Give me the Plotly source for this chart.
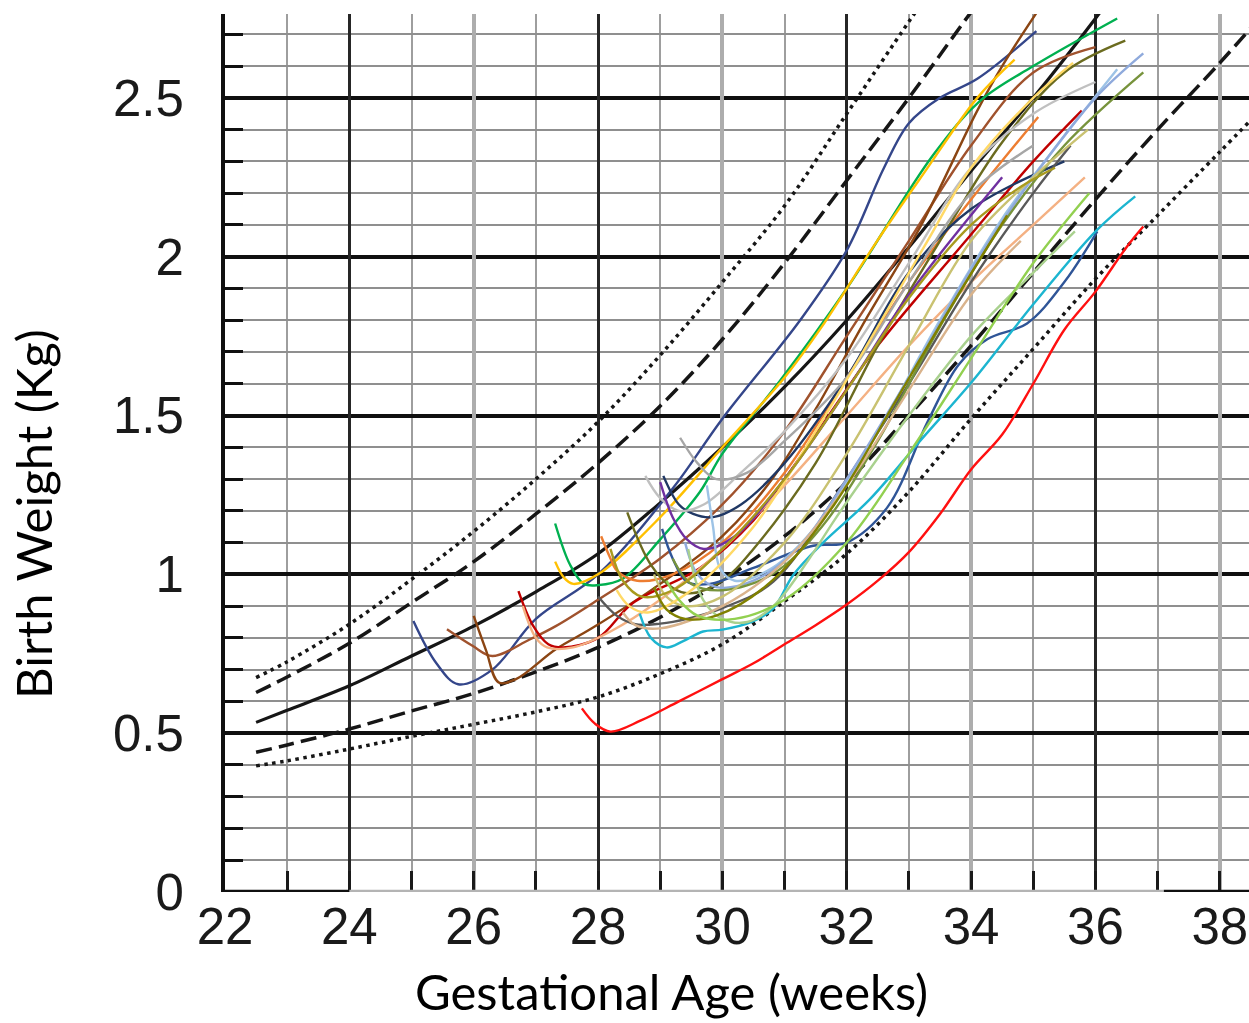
import plotly.graph_objects as go

# ---------------- reference percentile curves (kg vs weeks) ----------------
p97_ga = [22.5, 23, 24, 25, 26, 27, 28, 29, 30, 31, 32, 33, 33.5]
p97_bw = [0.675, 0.725, 0.843, 0.984, 1.135, 1.30, 1.48, 1.69, 1.92, 2.16, 2.45, 2.74, 2.88]

p90_ga = [22.5, 23, 24, 25, 26, 27, 28, 29, 30, 31, 32, 33, 34, 34.5]
p90_bw = [0.628, 0.677, 0.783, 0.911, 1.04, 1.19, 1.35, 1.53, 1.74, 1.98, 2.24, 2.50, 2.77, 2.90]

p50_ga = [22.5, 23, 24, 25, 26, 27, 28, 29, 30, 31, 32, 33, 34, 35, 36, 36.3]
p50_bw = [0.534, 0.572, 0.649, 0.743, 0.837, 0.945, 1.065, 1.225, 1.40, 1.59, 1.80, 2.03, 2.27, 2.50, 2.75, 2.83]

p10_ga = [22.5, 23, 24, 25, 26, 27, 28, 29, 30, 31, 32, 33, 34, 35, 36, 37, 38, 38.5]
p10_bw = [0.44, 0.463, 0.513, 0.57, 0.625, 0.693, 0.77, 0.865, 0.98, 1.12, 1.29, 1.50, 1.72, 1.95, 2.18, 2.40, 2.61, 2.72]

p3_ga = [22.5, 23, 24, 25, 26, 27, 28, 29, 30, 31, 32, 33, 34, 35, 36, 37, 38, 38.5]
p3_bw = [0.397, 0.413, 0.45, 0.49, 0.528, 0.567, 0.614, 0.687, 0.78, 0.915, 1.065, 1.26, 1.49, 1.71, 1.93, 2.13, 2.33, 2.43]

# ---------------- individual infant growth curves ----------------
ga_01 = [25.03, 25.4, 25.75, 26.3, 27.0, 28.0, 29.2, 30.0, 31.25, 32.0, 32.6, 33.0, 33.5, 34.1, 35.05]
bw_01 = [0.853, 0.72, 0.654, 0.70, 0.86, 1.00, 1.27, 1.49, 1.80, 2.02, 2.28, 2.42, 2.50, 2.56, 2.71]

ga_02 = [25.57, 25.98, 26.3, 26.9, 27.32, 28.0, 29.0, 30.0, 31.0, 32.0, 33.0, 34.0, 35.0, 36.0]
bw_02 = [0.827, 0.775, 0.743, 0.795, 0.837, 0.92, 1.05, 1.22, 1.45, 1.75, 2.05, 2.35, 2.58, 2.66]

ga_03 = [26.0, 26.2, 26.4, 26.68, 27.32, 27.9, 29.0, 30.0, 30.8, 31.5, 32.3, 33.2, 34.1, 34.5, 35.06]
bw_03 = [0.869, 0.76, 0.66, 0.67, 0.764, 0.83, 0.97, 1.12, 1.30, 1.52, 1.80, 2.10, 2.46, 2.60, 2.77]

ga_04 = [26.72, 26.95, 27.2, 27.44, 28.0, 28.56, 29.64, 30.5, 31.0, 31.57, 32.5, 33.87, 35.0, 35.78]
bw_04 = [0.947, 0.84, 0.78, 0.77, 0.80, 0.91, 1.02, 1.17, 1.30, 1.46, 1.72, 2.04, 2.30, 2.46]

ga_05 = [26.79, 27.0, 27.18, 27.6, 28.2, 29.0, 30.0, 31.0, 32.0, 33.0, 34.0, 35.0, 35.83]
bw_05 = [0.90, 0.80, 0.77, 0.77, 0.82, 0.92, 1.08, 1.28, 1.50, 1.72, 1.92, 2.10, 2.25]

ga_06 = [27.31, 27.55, 27.77, 28.0, 28.41, 29.0, 29.64, 30.0, 30.93, 32.0, 33.39, 34.14, 35.0, 36.35]
bw_06 = [1.16, 1.03, 0.97, 0.966, 0.988, 1.11, 1.26, 1.38, 1.61, 1.90, 2.32, 2.49, 2.60, 2.75]

ga_07 = [27.31, 27.45, 27.6, 28.0, 29.0, 30.0, 31.0, 31.6, 32.49, 33.23, 34.1, 34.7]
bw_07 = [1.04, 0.99, 0.97, 1.00, 1.18, 1.40, 1.62, 1.78, 2.05, 2.26, 2.50, 2.62]

ga_08 = [28.05, 28.2, 28.31, 28.63, 29.2, 30.0, 31.0, 32.0, 33.0, 34.0, 35.08]
bw_08 = [1.12, 1.05, 1.01, 0.98, 1.00, 1.10, 1.32, 1.62, 1.92, 2.18, 2.44]

ga_09 = [28.47, 28.85, 29.21, 29.48, 30.0, 30.5, 31.5, 32.5, 33.5, 34.5, 35.5, 36.48]
bw_09 = [1.195, 1.03, 0.956, 0.94, 0.98, 1.08, 1.35, 1.72, 2.05, 2.36, 2.58, 2.68]

ga_10 = [29.05, 29.3, 29.53, 29.85, 30.3, 31.0, 32.0, 33.0, 34.0, 35.5]
bw_10 = [1.31, 1.22, 1.19, 1.18, 1.22, 1.35, 1.62, 1.95, 2.15, 2.30]

ga_11 = [28.0, 28.3, 28.6, 29.0, 29.43, 30.0, 30.82, 32.0, 33.0, 34.0, 35.0, 35.6]
bw_11 = [0.93, 0.87, 0.843, 0.845, 0.86, 0.894, 0.977, 1.30, 1.60, 1.92, 2.20, 2.35]

ga_12 = [29.03, 29.2, 29.43, 29.8, 30.5, 31.46, 32.0, 32.65, 33.3, 33.8, 34.26, 34.9, 35.5, 36.03]
bw_12 = [1.143, 1.05, 0.977, 0.97, 1.02, 1.09, 1.10, 1.21, 1.48, 1.66, 1.74, 1.79, 1.92, 2.08]

ga_13 = [28.67, 28.85, 29.1, 29.37, 29.69, 30.0, 30.49, 30.82, 31.14, 31.62, 32.37, 33.18, 34.03, 35.0, 36.03, 36.64]
bw_13 = [0.876, 0.80, 0.77, 0.79, 0.82, 0.826, 0.852, 0.893, 0.998, 1.10, 1.236, 1.42, 1.61, 1.85, 2.085, 2.19]

ga_14 = [28.76, 29.0, 29.3, 29.7, 30.3, 31.0, 32.0, 33.0, 34.0, 35.0, 36.0]
bw_14 = [1.31, 1.24, 1.20, 1.22, 1.32, 1.45, 1.68, 1.98, 2.28, 2.45, 2.55]

ga_15 = [29.32, 29.6, 29.9, 30.4, 31.0, 32.0, 33.0, 34.0, 35.0]
bw_15 = [1.43, 1.35, 1.30, 1.32, 1.42, 1.62, 1.92, 2.20, 2.35]

ga_16 = [29.0, 29.2, 29.43, 29.7, 30.2, 31.0, 32.0, 33.0, 34.5]
bw_16 = [1.29, 1.18, 1.11, 1.08, 1.12, 1.30, 1.58, 1.88, 2.25]

ga_17 = [29.75, 29.85, 29.96, 30.2, 30.8, 31.5, 32.5, 33.5, 34.5, 35.5, 36.35]
bw_17 = [1.28, 1.15, 1.02, 0.98, 1.02, 1.15, 1.45, 1.80, 2.12, 2.38, 2.59]

ga_18 = [29.4, 29.6, 29.9, 30.5, 31.2, 32.0, 33.0, 34.0, 35.0, 36.0, 36.77]
bw_18 = [1.10, 1.00, 0.96, 0.98, 1.08, 1.30, 1.62, 1.96, 2.25, 2.50, 2.64]

ga_19 = [29.2, 29.5, 30.0, 30.8, 31.6, 32.5, 33.5, 34.5, 35.5, 36.77]
bw_19 = [1.05, 0.97, 0.95, 1.00, 1.15, 1.42, 1.78, 2.10, 2.35, 2.58]

ga_20 = [29.45, 29.69, 30.0, 30.4, 30.82, 31.4, 31.8, 32.26, 33.0, 34.0, 35.0, 35.67]
bw_20 = [1.08, 0.92, 0.86, 0.85, 0.90, 1.05, 1.17, 1.30, 1.50, 1.75, 1.95, 2.08]

ga_21 = [28.9, 29.1, 29.4, 30.0, 31.0, 32.0, 33.0, 34.0, 35.0, 35.88]
bw_21 = [1.00, 0.93, 0.90, 0.93, 1.10, 1.38, 1.72, 2.05, 2.25, 2.40]

ga_22 = [28.4, 28.6, 29.0, 30.0, 31.0, 32.0, 33.0, 34.0, 34.8]
bw_22 = [0.88, 0.84, 0.83, 0.90, 1.04, 1.28, 1.58, 1.88, 2.05]

ga_23 = [28.3, 28.5, 28.8, 29.5, 30.5, 31.5, 32.5, 33.3, 34.0, 35.0, 35.64]
bw_23 = [0.95, 0.90, 0.88, 0.95, 1.15, 1.45, 1.78, 2.05, 2.28, 2.50, 2.61]

ga_24 = [28.2, 28.4, 28.7, 29.2, 30.0, 31.0, 32.0, 33.0, 34.0, 34.8, 35.35]
bw_24 = [1.08, 0.98, 0.93, 0.95, 1.08, 1.30, 1.58, 1.87, 2.10, 2.22, 2.28]

ga_25 = [28.9, 29.1, 29.4, 29.9, 30.8, 31.8, 32.8, 33.7, 34.58]
bw_25 = [0.96, 0.89, 0.86, 0.87, 0.98, 1.22, 1.55, 1.85, 2.13]

ga_26 = [29.1, 29.3, 29.6, 30.2, 31.0, 32.0, 33.0, 34.0, 35.0, 35.9]
bw_26 = [0.98, 0.92, 0.87, 0.86, 0.92, 1.10, 1.38, 1.68, 1.98, 2.20]

ga_27 = [27.74, 27.95, 28.2, 28.69, 29.3, 30.0, 30.5, 31.0, 31.5, 32.0, 32.5, 33.0, 33.5, 34.0, 34.5, 35.0, 35.5, 36.0, 36.5, 36.77]
bw_27 = [0.578, 0.53, 0.505, 0.54, 0.60, 0.67, 0.72, 0.78, 0.84, 0.905, 0.98, 1.07, 1.19, 1.33, 1.44, 1.60, 1.77, 1.89, 2.03, 2.095]

infant_colors = ["#34468A", "#A0522D", "#8B4513", "#C00000", "#F4B183", "#00B050",
                 "#FFC000", "#ED7D31", "#6B6B1F", "#203864", "#595959", "#2F5597",
                 "#1CB5D0", "#C0C0C0", "#A6A6A6", "#7030A0", "#9DC3E6", "#8FAADC",
                 "#77933C", "#A9D18E", "#C9C271", "#D9B38C", "#FFD966", "#A89A1E",
                 "#808000", "#92D050", "#FF1010"]

x_ticks = [22, 24, 26, 28, 30, 32, 34, 36, 38]
x_dark_grid = [24, 28, 32, 36]
x_light_grid = [26, 30, 34, 38]
y_ticks = [0, 0.5, 1, 1.5, 2, 2.5]
y_ticktext = ["0", "0.5", "1", "1.5", "2", "2.5"]

infant_ga = [ga_01, ga_02, ga_03, ga_04, ga_05, ga_06, ga_07, ga_08, ga_09, ga_10,
             ga_11, ga_12, ga_13, ga_14, ga_15, ga_16, ga_17, ga_18, ga_19, ga_20,
             ga_21, ga_22, ga_23, ga_24, ga_25, ga_26, ga_27]
infant_bw = [bw_01, bw_02, bw_03, bw_04, bw_05, bw_06, bw_07, bw_08, bw_09, bw_10,
             bw_11, bw_12, bw_13, bw_14, bw_15, bw_16, bw_17, bw_18, bw_19, bw_20,
             bw_21, bw_22, bw_23, bw_24, bw_25, bw_26, bw_27]

fig = go.Figure()

ref_curves = [
    (p97_ga, p97_bw, "3.5px,4.5px", 3.5),
    (p90_ga, p90_bw, "16px,7px", 3.5),
    (p50_ga, p50_bw, "solid", 3.2),
    (p10_ga, p10_bw, "16px,7px", 3.5),
    (p3_ga, p3_bw, "3.5px,4.5px", 3.5),
]
for ga, bw, dash, w in ref_curves:
    fig.add_trace(go.Scatter(x=ga, y=bw, mode="lines",
                             line=dict(color="#161616", width=w, dash=dash, shape="spline", smoothing=1.0),
                             hoverinfo="skip", showlegend=False))

for ga, bw, col in zip(infant_ga, infant_bw, infant_colors):
    fig.add_trace(go.Scatter(x=ga, y=bw, mode="lines",
                             line=dict(color=col, width=2.4, shape="spline", smoothing=1.0),
                             hoverinfo="skip", showlegend=False))

# empty traces so the overlay grid axes get a subplot
fig.add_trace(go.Scatter(x=[], y=[], xaxis="x2", yaxis="y", hoverinfo="skip", showlegend=False))
fig.add_trace(go.Scatter(x=[], y=[], xaxis="x3", yaxis="y", hoverinfo="skip", showlegend=False))

tick_font = dict(family="Liberation Sans, Arial, sans-serif", size=51, color="#1a1a1a")
x_range = [22, 38.47]

fig.update_layout(
    xaxis=dict(range=x_range, tickmode="array", tickvals=x_ticks,
               ticktext=[str(v) for v in x_ticks],
               showgrid=False,
               ticks="inside", ticklen=21, tickwidth=2.5, tickcolor="#1a1a1a",
               showline=False, zeroline=False, tickfont=tick_font,
               ticklabelstandoff=0, ticklabeloverflow="allow",
               minor=dict(dtick=1, tick0=22, showgrid=True, gridcolor="#9e9e9e", gridwidth=2,
                          ticks="inside", ticklen=21, tickwidth=2.5, tickcolor="#1a1a1a"),
               automargin=False, fixedrange=True),
    xaxis2=dict(range=x_range, overlaying="x", anchor="y", side="bottom",
                tickmode="array", tickvals=x_dark_grid, showticklabels=False, ticks="",
                showgrid=True, gridcolor="#262626", gridwidth=2.6,
                showline=False, zeroline=False, automargin=False, fixedrange=True),
    xaxis3=dict(range=x_range, overlaying="x", anchor="y", side="bottom",
                tickmode="array", tickvals=x_light_grid, showticklabels=False, ticks="",
                showgrid=True, gridcolor="#adadad", gridwidth=3.5,
                showline=False, zeroline=False, automargin=False, fixedrange=True),
    yaxis=dict(range=[0, 2.764], tickmode="array", tickvals=y_ticks, ticktext=y_ticktext,
               showgrid=True, gridcolor="#101010", gridwidth=4,
               ticks="inside", ticklen=18, tickwidth=3, tickcolor="#101010",
               showline=True, linecolor="#101010", linewidth=4, mirror=False,
               zeroline=False, tickfont=tick_font, ticklabelstandoff=27,
               ticklabeloverflow="allow",
               minor=dict(dtick=0.1, tick0=0, showgrid=True, gridcolor="#8f8f8f", gridwidth=2,
                          ticks="inside", ticklen=18, tickwidth=3, tickcolor="#101010"),
               automargin=False, fixedrange=True),
)

# bottom axis line (black at both ends, pale in the middle as in the scanned chart)
fig.add_shape(type="line", xref="x", yref="y", x0=22, x1=24, y0=0, y1=0,
              line=dict(color="#101010", width=4.5), layer="above")
fig.add_shape(type="line", xref="x", yref="y", x0=24, x1=37.1, y0=0, y1=0,
              line=dict(color="#b4b4b4", width=4.5), layer="above")
fig.add_shape(type="line", xref="x", yref="y", x0=37.1, x1=38.47, y0=0, y1=0,
              line=dict(color="#101010", width=4.5), layer="above")

title_font = dict(family="Lato, Carlito, Open Sans, sans-serif", size=49, color="#000000")
fig.add_annotation(text="Gestational Age (weeks)", xref="paper", yref="paper",
                   x=(671 - 225) / 1024, y=-(1022 - 892) / 878, xanchor="center", yanchor="bottom",
                   showarrow=False, font=title_font)
fig.add_annotation(text="Birth Weight (Kg)", xref="paper", yref="paper",
                   x=(33 - 225) / 1024, y=(892 - 514) / 878, xanchor="center", yanchor="middle",
                   textangle=-90, showarrow=False, font=title_font)

fig.update_layout(width=1249, height=1023, autosize=False,
                  margin=dict(l=225, r=0, t=14, b=131, pad=0),
                  plot_bgcolor="white", paper_bgcolor="white", showlegend=False)

fig.write_html("out.html", config={"displayModeBar": False},
               post_script="document.body.style.margin='0px';")
